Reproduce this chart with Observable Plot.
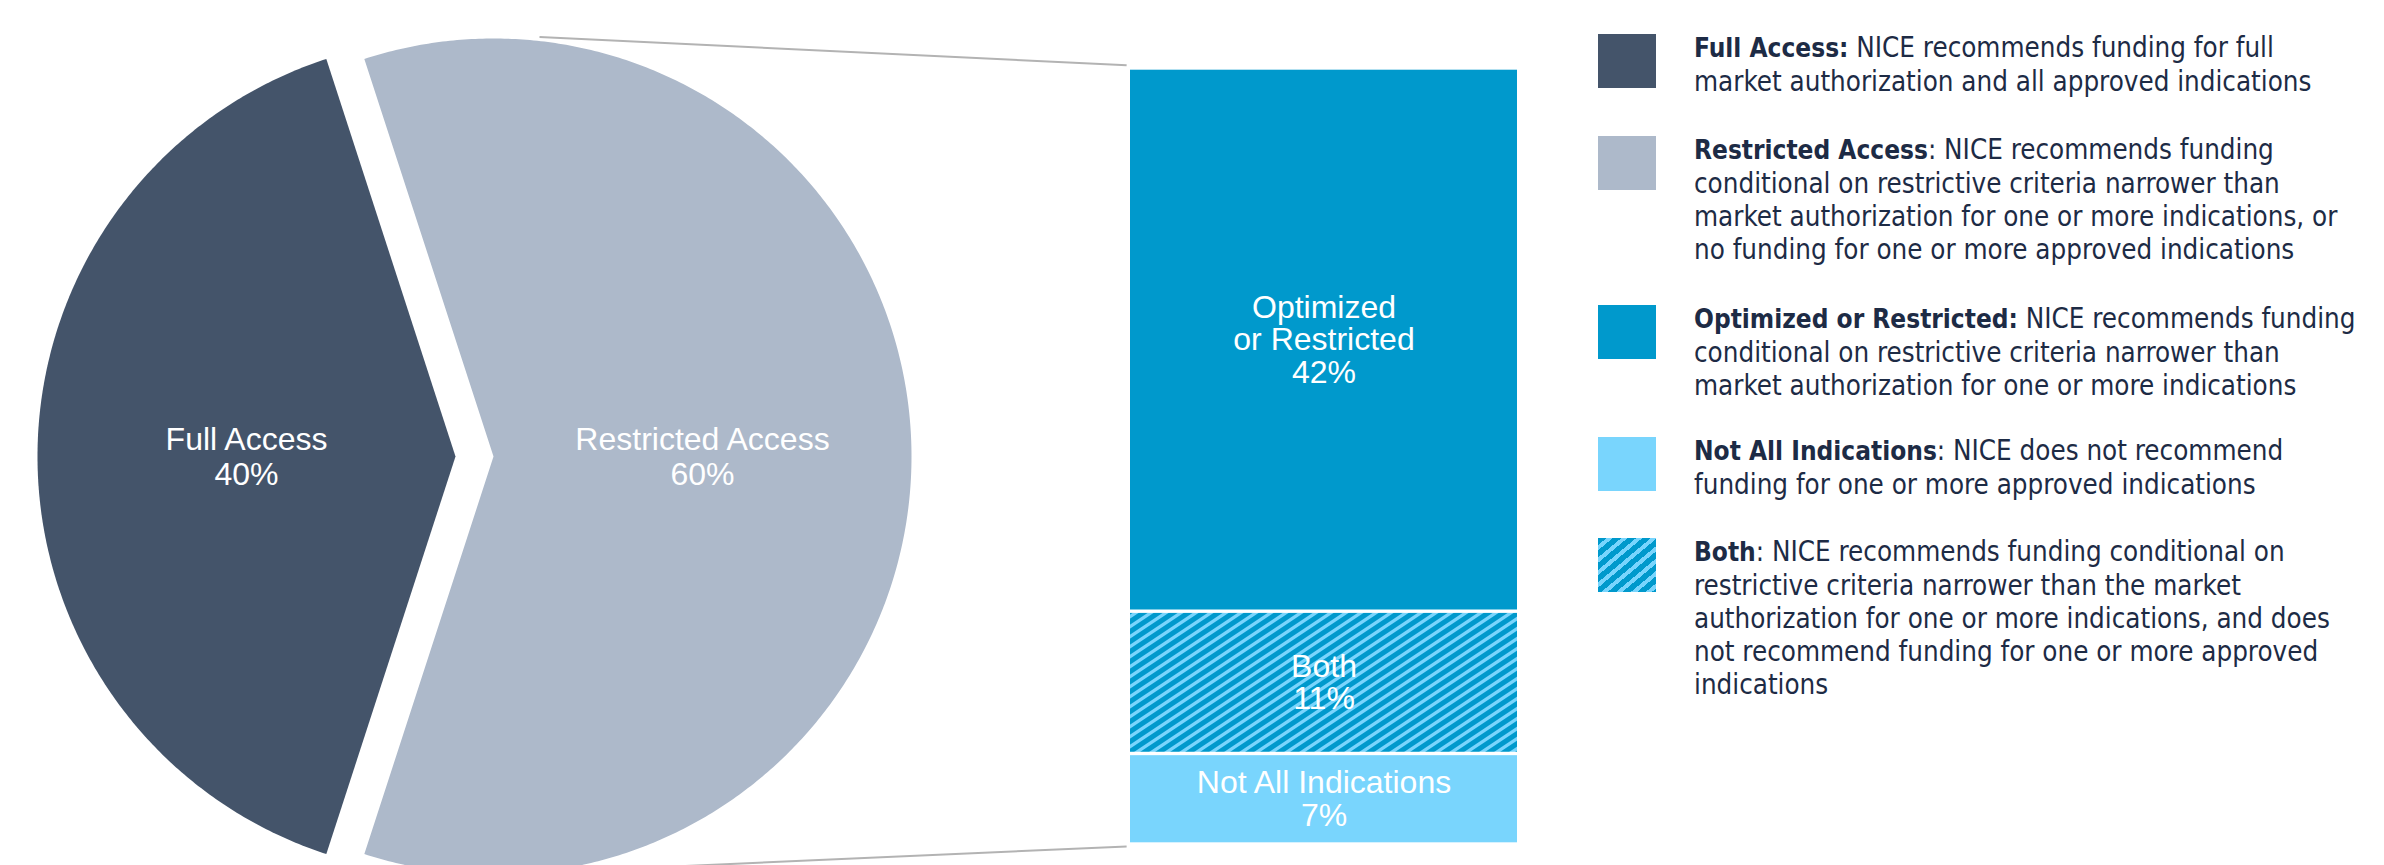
<!DOCTYPE html>
<html>
<head>
<meta charset="utf-8">
<script src="https://cdn.jsdelivr.net/npm/d3@7"></script>
<script src="https://cdn.jsdelivr.net/npm/@observablehq/plot@0.6"></script>
<style>
  html, body { margin: 0; padding: 0; background: #ffffff; }
  #wrap { position: relative; width: 2384px; height: 865px; overflow: hidden; background: #fff; }
  #chart { position: absolute; left: 0; top: 0; }
  .entry { position: absolute; left: 1598px; display: flex; align-items: flex-start; }
  .swatch { width: 58px; height: 54px; margin-top: 3px; flex: none; }
  .ltext { margin-left: 38px; font-family: "DejaVu Sans Condensed", "DejaVu Sans", sans-serif; font-stretch: condensed;
           font-size: 27.5px; line-height: 33px; color: #1d2b45; white-space: nowrap; }
  .ltext b { font-weight: bold; font-size: 26px; }
</style>
</head>
<body>
<div id="wrap"><div id="chart"></div></div>
<script>
// ---------------- DATA ----------------
const pieCategories = ["Full Access", "Restricted Access"];
const pieShares = [40, 60];
const pieColors = ["#44546a", "#adb9ca"];

// bar of pie: stacked from bottom to top
const barCategories = ["Not All Indications", "Both", "Optimized\nor Restricted"];
const barShares = [7, 11, 42];
const barColors = ["#79d5fd", "url(#hatchBar)", "#0099cc"];

const legendTerms = ["Full Access:", "Restricted Access", "Optimized or Restricted:", "Not All Indications", "Both"];
const legendAfterTerm = ["", ":", "", ":", ":"];
const legendLines = [
  [" NICE recommends funding for full", "market authorization and all approved indications"],
  [" NICE recommends funding", "conditional on restrictive criteria narrower than", "market authorization for one or more indications, or", "no funding for one or more approved indications"],
  [" NICE recommends funding", "conditional on restrictive criteria narrower than", "market authorization for one or more indications"],
  [" NICE does not recommend", "funding for one or more approved indications"],
  [" NICE recommends funding conditional on", "restrictive criteria narrower than the market", "authorization for one or more indications, and does", "not recommend funding for one or more approved", "indications"]
];
const legendSwatches = ["#44546a", "#adb9ca", "#0099cc", "#79d5fd", "hatch"];

// ---------------- LAYOUT (pixels, styling only) ----------------
const W = 1580, H = 865;
const barTopPx = 68, barBottomPx = 844, barLeftPx = 1130, barRightPx = 1517;
const barTotal = d3.sum(barShares);
const k = (barBottomPx - barTopPx) / barTotal;       // px per percentage point
const ux = px => px / k;
const uy = py => (barBottomPx - py) / k;
const pie = {cx: ux(474), cy: uy(456), r: 418 / k, explode: 19 / k, firstMid: 180};
const legendTops = [31, 133, 302, 434, 535];

// ---------------- PIE GEOMETRY from shares ----------------
const total = d3.sum(pieShares);
const slices = [];
let a = pie.firstMid - 360 * pieShares[0] / total / 2;
pieShares.forEach((s, i) => {
  const a0 = a, a1 = a + 360 * s / total;
  const mid = (a0 + a1) / 2 * Math.PI / 180;
  const ox = pie.cx + pie.explode * Math.cos(mid), oy = pie.cy + pie.explode * Math.sin(mid);
  const pts = [{x: ox, y: oy}];
  const steps = Math.ceil((a1 - a0) * 2);
  for (let j = 0; j <= steps; j++) {
    const t = (a0 + (a1 - a0) * j / steps) * Math.PI / 180;
    pts.push({x: ox + pie.r * Math.cos(t), y: oy + pie.r * Math.sin(t)});
  }
  slices.push({
    name: pieCategories[i], share: s, color: pieColors[i], pts,
    cx: ox, cy: oy,
    lx: ox + 0.5 * pie.r * Math.cos(mid), ly: oy + 0.5 * pie.r * Math.sin(mid)
  });
  a = a1;
});
const restricted = slices[1];

const barData = barCategories.map((c, i) => ({cat: c, share: barShares[i], fill: barColors[i]}));

const connectors = [
  {x1: restricted.cx + ux(46), y1: restricted.cy + pie.r + ux(1.5), x2: ux(barLeftPx) - 0.3, y2: barTotal + 0.25},
  {x1: restricted.cx, y1: restricted.cy - pie.r, x2: ux(barLeftPx) - 0.3, y2: -0.15}
];

const labelFont = "'Liberation Sans', Arial, sans-serif";

const chart = Plot.plot({
  width: W, height: H,
  margin: 0,
  x: {domain: [0, ux(W)], range: [0, W], axis: null},
  y: {domain: [0, barTotal], range: [barBottomPx, barTopPx], axis: null},
  color: {type: "identity"},
  style: {background: "white", overflow: "visible"},
  marks: [
    Plot.link(connectors, {x1: "x1", y1: "y1", x2: "x2", y2: "y2", stroke: "#b3b3b3", strokeWidth: 2}),
    ...slices.map(s => Plot.line(s.pts, {x: "x", y: "y", fill: s.color, stroke: "none", curve: "linear-closed"})),
    Plot.text(slices, {x: "lx", y: "ly", text: d => `${d.name}\n${d.share}%`, fill: "white",
      fontSize: 32, lineHeight: 1.094, fontFamily: labelFont, textAnchor: "middle", lineAnchor: "middle"}),
    Plot.rectY(barData, Plot.stackY({
      x1: () => ux(barLeftPx), x2: () => ux(barRightPx), y: "share", fill: "fill",
      insetTop: 1.7, insetBottom: 1.7
    })),
    Plot.text(barData, Plot.stackY({
      x: () => ux((barLeftPx + barRightPx) / 2), y: "share",
      text: d => `${d.cat}\n${d.share}%`, fill: "white",
      fontSize: 32, lineHeight: 1.01, fontFamily: labelFont, textAnchor: "middle", lineAnchor: "middle"
    }))
  ]
});

// hatch pattern definition
const defs = d3.select(chart).insert("defs", ":first-child");
const pw = 15, ph = 10;
const pat = defs.append("pattern").attr("id", "hatchBar").attr("patternUnits", "userSpaceOnUse")
  .attr("width", pw).attr("height", ph);
pat.append("rect").attr("width", pw).attr("height", ph).attr("fill", "#0099cc");
pat.append("path")
  .attr("d", `M${-pw/2},${ph/2}L${pw/2},${-ph/2}M0,${ph}L${pw},0M${pw/2},${1.5*ph}L${1.5*pw},${ph/2}`)
  .attr("stroke", "#79d5fd").attr("stroke-width", 3.3).attr("fill", "none");

document.getElementById("chart").appendChild(chart);

// ---------------- LEGEND ----------------
const wrap = document.getElementById("wrap");
legendTerms.forEach((term, i) => {
  const e = document.createElement("div");
  e.className = "entry";
  e.style.top = legendTops[i] + "px";
  const sw = document.createElement("div");
  sw.className = "swatch";
  if (legendSwatches[i] === "hatch") {
    sw.style.background = "repeating-linear-gradient(140deg, #0099cc 0px, #0099cc 5.5px, #79d5fd 5.5px, #79d5fd 9.5px)";
  } else {
    sw.style.background = legendSwatches[i];
  }
  e.appendChild(sw);
  const t = document.createElement("div");
  t.className = "ltext";
  legendLines[i].forEach((line, j) => {
    const ln = document.createElement("div");
    if (j === 0) {
      const b = document.createElement("b");
      b.textContent = term;
      ln.appendChild(b);
      ln.appendChild(document.createTextNode(legendAfterTerm[i] + line));
    } else {
      ln.textContent = line;
    }
    t.appendChild(ln);
  });
  e.appendChild(t);
  wrap.appendChild(e);
});
</script>
</body>
</html>
